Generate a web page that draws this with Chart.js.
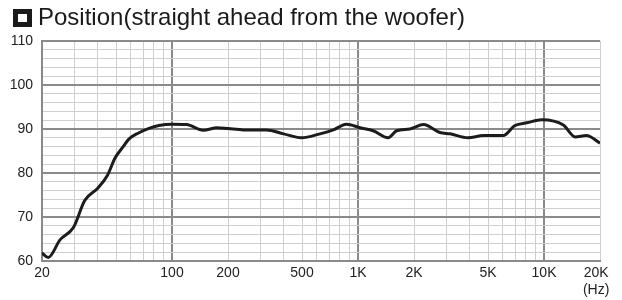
<!DOCTYPE html>
<html>
<head>
<meta charset="utf-8">
<script src="https://cdn.jsdelivr.net/npm/chart.js@4.4.1/dist/chart.umd.min.js"></script>
<style>
  html, body { margin: 0; padding: 0; background: #fff; }
  #wrap { position: relative; width: 622px; height: 300px; }
  #title { position: absolute; left: 38px; top: 5px; font: 24px "Liberation Sans", Arial, sans-serif; line-height: 24px; color: #1a1a1a; white-space: nowrap; }
  #icon { position: absolute; left: 13px; top: 9px; width: 9px; height: 8px; border: 5px solid #1a1a1a; background: #fff; }
</style>
</head>
<body>
<div id="wrap">
  <canvas id="fr" width="622" height="300"></canvas>
  <div id="icon"></div>
  <div id="title">Position(straight ahead from the woofer)</div>
</div>
<script>
// frequency (Hz) and level (dB)
const freqs = [20, 21.6, 25, 29.5, 34, 40, 45, 49.4, 54, 59, 66, 74.6, 85, 100, 120, 147, 175, 200, 242, 322, 398, 496, 624, 736, 866, 1028, 1208, 1452, 1612, 1900, 2248, 2757, 3130, 3900, 4720, 6040, 6980, 8080, 9740, 12700, 14700, 16900, 20000];
const levels = [61.8, 60.8, 64.8, 67.6, 73.8, 76.6, 79.5, 83.4, 85.7, 87.8, 89.1, 90.1, 90.8, 91.1, 91.0, 89.7, 90.3, 90.1, 89.8, 89.8, 88.9, 88.0, 88.9, 89.8, 91.1, 90.3, 89.6, 88.0, 89.6, 90.0, 91.0, 89.2, 88.9, 88.0, 88.5, 88.5, 90.8, 91.4, 92.1, 90.9, 88.2, 88.5, 86.8];

const xGrid = [20, 30, 40, 50, 60, 70, 80, 90, 100, 200, 300, 400, 500, 600, 700, 800, 900, 1000, 2000, 3000, 4000, 5000, 6000, 7000, 8000, 9000, 10000, 20000];
const xMajor = [100, 1000, 10000];
// last label sits a little left of its gridline in the original
const xLabels = { 20: '20', 100: '100', 200: '200', 500: '500', 1000: '1K', 2000: '2K', 5000: '5K', 10000: '10K', 20000: ['20K  ', '(Hz)  '] };
const yMin = 60, yMax = 110, yStep = 2;

const pts = freqs.map((f, i) => ({ x: f, y: levels[i] }));
const font = { family: '"Liberation Sans", Arial, sans-serif', size: 14 };

new Chart(document.getElementById('fr'), {
  type: 'line',
  data: {
    datasets: [{
      data: pts,
      borderColor: '#1c1c1c',
      borderWidth: 3,
      pointRadius: 0,
      cubicInterpolationMode: 'monotone',
      fill: false
    }]
  },
  options: {
    responsive: false,
    animation: false,
    layout: { padding: { top: 41, right: 22, left: 0, bottom: 0 } },
    plugins: { legend: { display: false }, tooltip: { enabled: false }, title: { display: false } },
    scales: {
      x: {
        type: 'logarithmic',
        min: 20,
        max: 20000,
        afterBuildTicks: (axis) => { axis.ticks = xGrid.map(v => ({ value: v })); },
        afterFit: (axis) => { axis.height = 39; },
        ticks: {
          autoSkip: false,
          maxRotation: 0,
          padding: 4,
          color: '#222',
          font: { ...font, lineHeight: 1.2 },
          callback: (v) => xLabels[v] || ''
        },
        grid: {
          drawTicks: false,
          color: (c) => xMajor.includes(c.tick && c.tick.value) ? '#8a8a8a' : '#cfcfcf',
          lineWidth: (c) => xMajor.includes(c.tick && c.tick.value) ? 2 : 1
        },
        border: { color: '#8a8a8a', width: 2 }
      },
      y: {
        min: yMin,
        max: yMax,
        ticks: {
          stepSize: yStep,
          autoSkip: false,
          padding: 9,
          color: '#222',
          font: font,
          callback: (v) => v % 10 === 0 ? String(v) : ''
        },
        afterFit: (axis) => { axis.width = 42; },
        grid: {
          drawTicks: false,
          color: (c) => c.tick && c.tick.value % 10 === 0 ? '#8a8a8a' : '#cfcfcf',
          lineWidth: (c) => c.tick && c.tick.value % 10 === 0 ? 2 : 1
        },
        border: { color: '#8a8a8a', width: 2 }
      }
    }
  }
});
</script>
</body>
</html>
